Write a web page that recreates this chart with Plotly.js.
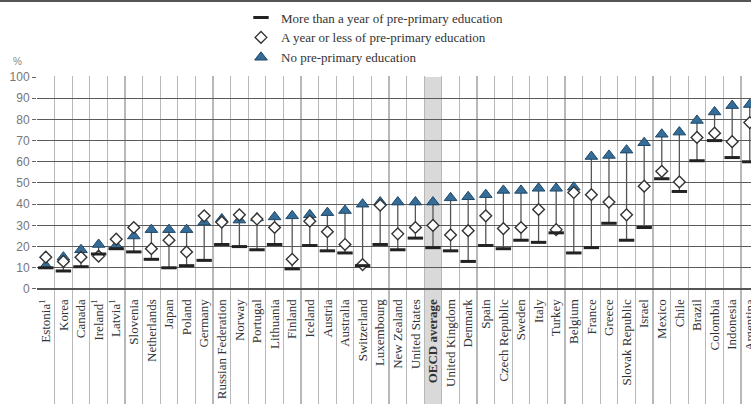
<!DOCTYPE html>
<html><head><meta charset="utf-8">
<script src="https://cdn.plot.ly/plotly-3.0.1.min.js"></script>
<style>html,body{margin:0;padding:0;overflow:hidden;background:#fff}#wrap{position:relative;width:751px;height:404px}#chart{width:751px;height:404px}#topline{position:absolute;left:0;top:0;width:751px;height:2px;background:#555;z-index:5}</style>
</head><body><div id="wrap"><div id="topline"></div><div id="chart"></div></div>
<script>
const categories = ["Estonia","Korea","Canada","Ireland","Latvia","Slovenia","Netherlands","Japan","Poland","Germany","Russian Federation","Norway","Portugal","Lithuania","Finland","Iceland","Austria","Australia","Switzerland","Luxembourg","New Zealand","United States","OECD average","United Kingdom","Denmark","Spain","Czech Republic","Sweden","Italy","Turkey","Belgium","France","Greece","Slovak Republic","Israel","Mexico","Chile","Brazil","Colombia","Indonesia","Argentina"];
const tickLabels = ["Estonia<sup>1</sup>","Korea","Canada","Ireland<sup>1</sup>","Latvia<sup>1</sup>","Slovenia","Netherlands","Japan","Poland","Germany","Russian Federation","Norway","Portugal","Lithuania","Finland","Iceland","Austria","Australia","Switzerland","Luxembourg","New Zealand","United States","<b>OECD average</b>","United Kingdom","Denmark","Spain","Czech Republic","Sweden","Italy","Turkey","Belgium","France","Greece","Slovak Republic","Israel","Mexico","Chile","Brazil","Colombia","Indonesia","Argentina"];
const moreThanYear = [10,8.5,10.5,16.5,19,17.5,14,10,11,13.5,21,20,18.5,21,9.5,20.5,18,17,11,21,18.5,24,19.5,18,13,20.5,19,23,22,26.5,17,19.5,31,23,29,52,46,60.5,70,62,60];
const yearOrLess = [15,13,15,15.5,23.5,29,19,23,17.5,34.5,31.5,35,33,29,14,32,27,21,11.5,39.5,26,29,30,25.5,27.5,34.5,28.5,29,37.5,28,45.5,44.5,41,35,48.5,55.5,50.5,71.5,73.5,69.5,78.5];
const noPrePrimary = [11,15,18.5,21,20.5,25,28,28,28,31.5,33,32.5,33.5,34,34.5,35,36,37,40,41,41,41,41,43,43.5,44.5,46.5,46.5,47.5,47.5,48,62.5,63,65.5,69,73,74,79.5,83.5,86.5,87];
const yTicks = [0,10,20,30,40,50,60,70,80,90,100];

const lx = [], ly = [];
categories.forEach((c, i) => {
  const vals = [moreThanYear[i], yearOrLess[i], noPrePrimary[i]];
  lx.push(c, c, null);
  ly.push(Math.min(...vals), Math.max(...vals), null);
});

const xRange = [-0.5, 40.07];
const yRange = [-54.25, 100.47];
const oecdIdx = categories.indexOf("OECD average");

const traces = [
  {type:'scatter', mode:'lines', x:lx, y:ly, line:{color:'#555', width:1.3}, showlegend:false, hoverinfo:'skip'},
  {type:'scatter', mode:'markers', name:'No pre-primary education', x:categories, y:noPrePrimary,
   marker:{symbol:'triangle-up', size:11, color:'#356d98', line:{color:'#1f4766', width:1}}},
  {type:'scatter', mode:'markers', name:'A year or less of pre-primary education', x:categories, y:yearOrLess,
   marker:{symbol:'diamond', size:9, color:'#ffffff', line:{color:'#333', width:1.4}}},
  {type:'scatter', mode:'markers', name:'More than a year of pre-primary education', x:categories, y:moreThanYear,
   marker:{symbol:'line-ew', size:11, color:'#222', line:{color:'#222', width:3}}},
  {type:'scatter', mode:'markers', x:categories, y:categories.map(() => null), xaxis:'x2', showlegend:false, hoverinfo:'skip'}
];

const layout = {
  width:751, height:404,
  margin:{l:37, r:0, t:76, b:0, pad:0},
  paper_bgcolor:'#ffffff', plot_bgcolor:'rgba(0,0,0,0)',
  showlegend:true,
  legend:{x:0.2857, xanchor:'left', y:1.224, yanchor:'top', traceorder:'reversed',
    font:{family:'Liberation Serif', size:13, color:'#333'}, bgcolor:'rgba(0,0,0,0)', itemwidth:30},
  xaxis:{type:'category', categoryorder:'array', categoryarray:categories, range:xRange,
    tickson:'boundaries', showgrid:true, gridcolor:'#b8b8b8', gridwidth:1.3,
    showticklabels:false, ticks:'', showline:false, zeroline:false, fixedrange:true},
  xaxis2:{type:'category', overlaying:'x', anchor:'free', position:0.3506, side:'bottom',
    categoryorder:'array', categoryarray:categories, tickmode:'array', tickvals:categories, ticktext:tickLabels,
    tickangle:-90, range:xRange, showgrid:false, showline:false, zeroline:false,
    ticks:'outside', ticklen:4, tickcolor:'rgba(0,0,0,0)',
    tickfont:{family:'Liberation Serif', size:13, color:'#333'}},
  yaxis:{range:yRange, tickmode:'array', tickvals:yTicks, showgrid:true, gridcolor:'#5a5a5a', gridwidth:1,
    zeroline:true, zerolinecolor:'#555', zerolinewidth:1.6, ticks:'outside', ticklen:4, tickcolor:'#666',
    tickfont:{family:'Liberation Sans', size:12, color:'#777'}, showline:false, fixedrange:true},
  shapes:[
    {type:'rect', xref:'x', yref:'y', x0:oecdIdx-0.5, x1:oecdIdx+0.5, y0:yRange[0], y1:100,
     fillcolor:'#d9d9d9', line:{width:0}, layer:'below'}
  ],
  annotations:[
    {xref:'paper', yref:'paper', x:-0.028, y:1.0427, xanchor:'center', yanchor:'middle', text:'%', showarrow:false,
     font:{family:'Liberation Sans', size:10, color:'#888'}}
  ]
};

Plotly.newPlot('chart', traces, layout, {displayModeBar:false, staticPlot:true});
</script>
</body></html>
